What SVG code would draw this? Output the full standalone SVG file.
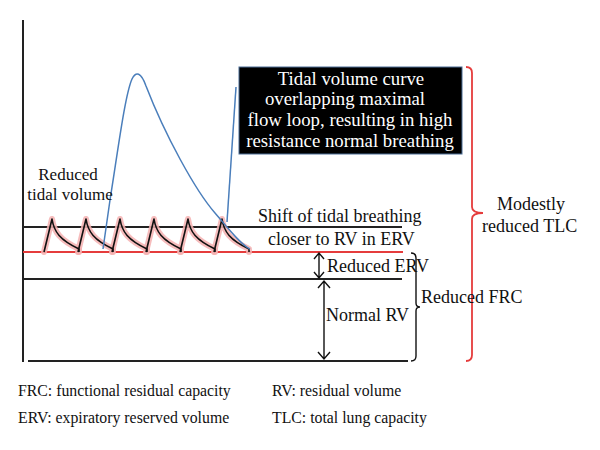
<svg xmlns="http://www.w3.org/2000/svg" width="600" height="450" viewBox="0 0 600 450">
<style>
text{font-family:"Liberation Serif","Times New Roman",serif;fill:#111}
.lbl{font-size:18px}
.sm{font-size:17px}
.leg{font-size:15.8px}
.box{font-size:18.8px;fill:#fff}
.blk{stroke:#222;stroke-width:2;fill:none}
.red{stroke:#e53c3c;stroke-width:1.8;fill:none}
.halo{stroke:#f5b0b0;stroke-width:6;fill:none;stroke-linejoin:round;stroke-linecap:round;opacity:0.85}
.tid{stroke:#111;stroke-width:1.6;fill:none;stroke-linejoin:round}
.blue{stroke:#4a7ebb;stroke-width:1.5;fill:none}
.arr{stroke:#111;stroke-width:1.4;fill:none}
</style>
<defs>
<path id="cyc" d="M0,252 L8,219 C10,232 16,240 35,249 L35,252"/>
</defs>
<g id="axes">
<line class="blk" x1="23" y1="20" x2="23" y2="362"/>
<line class="blk" x1="23" y1="227" x2="402" y2="227"/>
<line class="red" x1="23" y1="252" x2="403" y2="252"/>
<line class="blk" x1="23" y1="279" x2="402" y2="279"/>
<line class="blk" x1="28" y1="361" x2="408" y2="361"/>
</g>
<g id="tidal">
<use href="#cyc" x="44" class="halo"/>
<use href="#cyc" x="78" class="halo"/>
<use href="#cyc" x="112" class="halo"/>
<use href="#cyc" x="146" class="halo"/>
<use href="#cyc" x="180" class="halo"/>
<use href="#cyc" x="214" class="halo"/>
<use href="#cyc" x="44" class="tid"/>
<use href="#cyc" x="78" class="tid"/>
<use href="#cyc" x="112" class="tid"/>
<use href="#cyc" x="146" class="tid"/>
<use href="#cyc" x="180" class="tid"/>
<use href="#cyc" x="214" class="tid"/>
</g>
<g id="maxloop">
<path class="blue" d="M103,249 L110,200 C118,150 125,95 132,79 C136,71 141,72 146,86 C165,135 195,190 215,213 C228,228 240,244 250,249"/>
<path class="blue" d="M236,87 L227,222"/>
</g>
<g id="callout">
<rect x="239" y="67" width="223" height="87" fill="#000" stroke="#4a6c95" stroke-width="1"/>
<text class="box" x="351" y="85" text-anchor="middle">Tidal volume curve</text>
<text class="box" x="345" y="105" text-anchor="middle">overlapping maximal</text>
<text class="box" x="350" y="126" text-anchor="middle">flow loop, resulting in high</text>
<text class="box" x="350" y="147" text-anchor="middle">resistance normal breathing</text>
</g>
<g id="connectors">
<path class="arr" d="M319,254 L319,277 M314,259 L319,253 L324,259 M314,272 L319,278 L324,272"/>
<path class="arr" d="M324,281 L324,359 M318,288 L324,281 L330,288 M318,352 L324,359 L330,352"/>
<path class="arr" d="M411,253 Q416,253 416,258 L416,303 Q416,307 420,307 Q416,307 416,311 L416,356 Q416,361 411,361"/>
<path class="red" d="M466,67 Q472,67 472,73 L472,207 Q472,213 483,213 Q472,213 472,219 L472,355 Q472,361 466,361"/>
</g>
<g id="labels">
<text class="sm" x="68" y="180" text-anchor="middle">Reduced</text>
<text class="sm" x="70" y="200" text-anchor="middle">tidal volume</text>
<text class="lbl" x="258" y="222">Shift of tidal breathing</text>
<text class="lbl" x="268" y="245">closer to RV in ERV</text>
<text class="lbl" x="327" y="272">Reduced ERV</text>
<text class="lbl" x="326" y="321">Normal RV</text>
<text class="lbl" x="421" y="303">Reduced FRC</text>
<text class="lbl" x="531" y="210" text-anchor="middle">Modestly</text>
<text class="lbl" x="482" y="232">reduced TLC</text>
</g>
<g id="legend">
<text class="leg" x="18" y="396">FRC: functional residual capacity</text>
<text class="leg" x="18" y="423">ERV: expiratory reserved volume</text>
<text class="leg" x="272" y="396">RV: residual volume</text>
<text class="leg" x="272" y="423">TLC: total lung capacity</text>
</g>
</svg>
